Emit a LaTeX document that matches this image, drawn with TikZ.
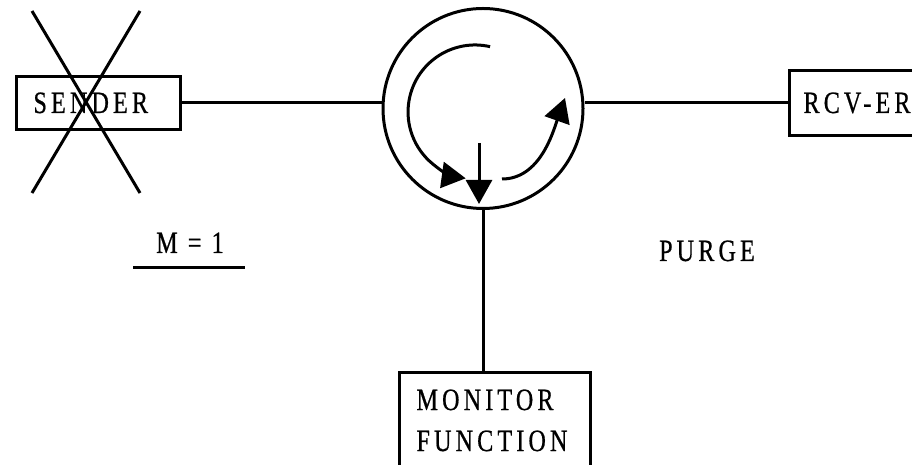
\documentclass[tikz,border=0pt]{standalone}
\usepackage{fontspec}
\setmainfont[LetterSpace=17,FakeBold=0.7]{Liberation Serif}
\usepackage{tikz}
\usetikzlibrary{arrows.meta,calc}
\newcommand{\narrow}[1]{\scalebox{0.78}[1]{#1}}

\begin{document}
\begin{tikzpicture}[x=1pt,y=1pt,line width=3pt,>={Triangle[length=24pt,width=26pt]}]
\tikzstyle{every node}=[font=\fontsize{31}{41}\selectfont,inner sep=0pt]
\tikzstyle{box}=[draw,line width=3pt,align=left,inner xsep=17pt,inner ysep=16pt]
\useasboundingbox (0,0) rectangle (912,465);
\clip (0,0) rectangle (912,465);
\node[box,anchor=base west,text width=130pt] (sender) at (15,352) {\narrow{SENDER}};
\node[box,anchor=base west,text width=150pt,inner xsep=14pt,inner ysep=22pt] (rcv) at (788,352) {\narrow{RCV-ER}};
\node[box,anchor=north west,text width=157pt,inner ysep=17pt,text depth=60pt] (mon) at (398,94) {\narrow{MONITOR}\\\narrow{FUNCTION}};
\node[draw,circle,minimum size=200pt] (circ) at (483,356.5) {};
\draw (sender.east) -- (sender.east -| circ.west);
\draw (rcv.west) -- (rcv.west -| circ.east);
\draw (circ.south) -- (circ.south |- mon.north);
% crossed out sender
\draw (32,454) -- (140,272);
\draw (140,454) -- (32,272);
% rotation inside the circle
\draw[->] (490.1,418.3) arc[start angle=77,end angle=262,radius=67];
\draw[->] (502,286) .. controls (540,286) and (553,333) .. (565,367);
\draw[->] (479,322) -- (479,261);
\node[anchor=base] (mone) at (190,212) {\narrow{M = 1}};
\draw (133,197) -- (245,197);
\node[anchor=base] (purge) at (707,204) {\narrow{PURGE}};
\end{tikzpicture}
\end{document}
